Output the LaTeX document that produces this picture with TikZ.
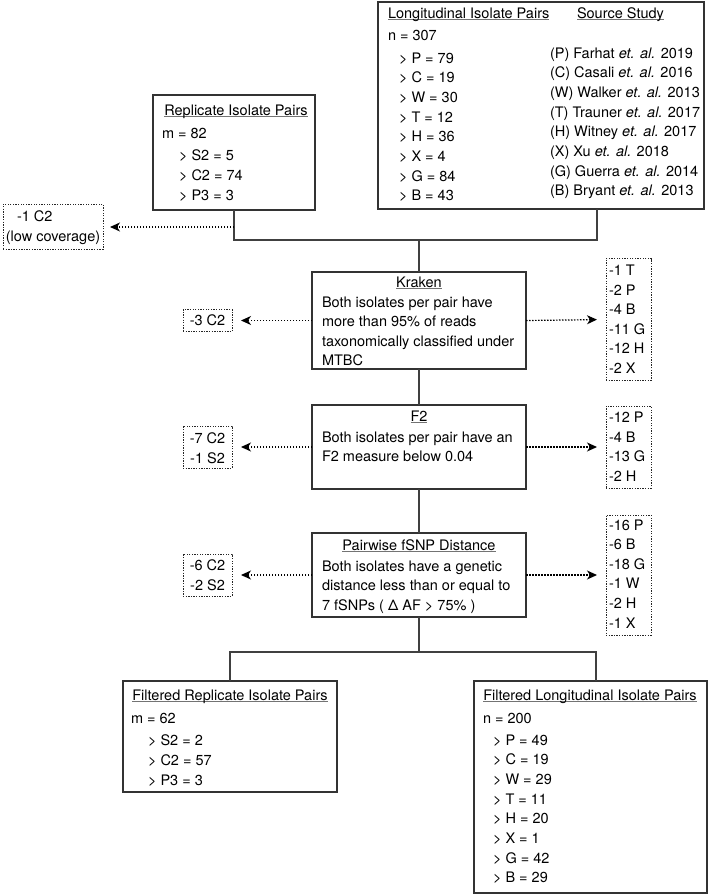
\documentclass[tikz,border=0pt]{standalone}
\usepackage{fontspec}
\setmainfont{TeX Gyre Heros}
\usetikzlibrary{arrows.meta,calc}
\newcommand{\myul}[1]{\setbox0\hbox{#1}\rlap{\textcolor{black!55}{\rule[-2.3pt]{\wd0}{0.9pt}}}\box0}
\begin{document}
\begin{tikzpicture}[x=1pt,y=-1pt,
  every node/.style={font=\fontsize{14.5}{17}\selectfont, inner sep=0pt, outer sep=0pt},
  t/.style={anchor=base west},
  tc/.style={anchor=base},
  bx/.style 2 args={draw=black!80, line width=1.1pt, minimum width=#1, minimum height=#2},
  dbx/.style 2 args={draw=black!85, line width=0.9pt, dash pattern=on 1.3pt off 1.3pt, minimum width=#1, minimum height=#2},
  ln/.style={draw=black!75, line width=1.1pt},
  darr/.style={draw=black, line width=1.2pt, dash pattern=on 1.5pt off 1.5pt, -{Stealth[length=10pt,width=9pt,inset=3pt]}}]
\useasboundingbox (0,0) rectangle (717,895);

% Longitudinal
\node[bx={326}{207}] (lon) at (541,105.5) {};
\node[t] (lonT) at (388,18) {\myul{Longitudinal Isolate Pairs}};
\node[t] (srcT) at (577,18) {\myul{Source Study}};
\node[t] (lonN) at (388,40) {n = 307};
\foreach \s [count=\i] in {P = 79, C = 19, W = 30, T = 12, H = 36, X = 4, G = 84, B = 43}
  \node[t] (lonL\i) at (399,{63+19.7*(\i-1)}) {> \s};
\foreach \s [count=\i] in {{(P) Farhat \textit{et. al.} 2019},{(C) Casali \textit{et. al.} 2016},{(W) Walker \textit{et. al.} 2013},{(T) Trauner \textit{et. al.} 2017},{(H) Witney \textit{et. al.} 2017},{(X) Xu \textit{et. al.} 2018},{(G) Guerra \textit{et. al.} 2014},{(B) Bryant \textit{et. al.} 2013}}
  \node[t] (src\i) at (550,{58+19.7*(\i-1)}) {\s};

% Replicate
\node[bx={162}{115}] (rep) at (234,152.5) {};
\node[tc] (repT) at (236,115) {\myul{Replicate Isolate Pairs}};
\node[t] (repM) at (162,138) {m = 82};
\foreach \s [count=\i] in {S2 = 5, C2 = 74, P3 = 3}
  \node[t] (repL\i) at (179,{160+20*(\i-1)}) {> \s};

% low coverage
\node[dbx={100}{45}] (low) at (53,226.5) {};
\node[t] (lowA) at (17,221) {-1 C2};
\node[tc] (lowB) at (53,241) {(low coverage)};

% Kraken
\node[bx={214}{97}] (kr) at (419,320.5) {};
\node[tc] (krT) at (419,287) {\myul{Kraken}};
\foreach \s [count=\i] in {Both isolates per pair have, more than 95\% of reads, taxonomically classified under, MTBC}
  \node[t] (krL\i) at (322,{307+19.5*(\i-1)}) {\s};
\node[dbx={49}{22}] (kl) at (207.5,320.5) {};
\node[tc] (klt) at (207.5,325.5) {-3 C2};
\node[dbx={45}{122}] (krr) at (628.5,319.5) {};
\foreach \s [count=\i] in {-1 T, -2 P, -4 B, -11 G, -12 H, -2 X}
  \node[t] (krrL\i) at (609,{319.5+19.6*(\i-3.5)+5}) {\s};

% F2
\node[bx={214}{84}] (f2) at (419,447) {};
\node[tc] (f2T) at (419,421) {\myul{F2}};
\node[t] (f2L1) at (322,442) {Both isolates per pair have an};
\node[t] (f2L2) at (322,461.5) {F2 measure below 0.04};
\node[dbx={49}{42}] (fl) at (207.5,447) {};
\node[tc] (flL1) at (207.5,443) {-7 C2};
\node[tc] (flL2) at (207.5,463) {-1 S2};
\node[dbx={45}{82}] (fr) at (628.5,447) {};
\foreach \s [count=\i] in {-12 P, -4 B, -13 G, -2 H}
  \node[t] (frL\i) at (609,{447+19.6*(\i-2.5)+5}) {\s};

% fSNP
\node[bx={214}{84}] (fs) at (419,575) {};
\node[tc] (fsT) at (419,550) {\myul{Pairwise fSNP Distance}};
\foreach \s [count=\i] in {Both isolates have a genetic, distance less than or equal to, 7 fSNPs ( Δ AF > 75\% )}
  \node[t] (fsL\i) at (322,{571+19.5*(\i-1)}) {\s};
\node[dbx={49}{42}] (sl) at (207.5,575) {};
\node[tc] (slL1) at (207.5,570) {-6 C2};
\node[tc] (slL2) at (207.5,590) {-2 S2};
\node[dbx={45}{120}] (sr) at (628.5,575) {};
\foreach \s [count=\i] in {-16 P, -6 B, -18 G, -1 W, -2 H, -1 X}
  \node[t] (srL\i) at (609,{574+19.6*(\i-3.5)+5}) {\s};

% bottom boxes
\node[bx={214}{111}] (frp) at (230,736.5) {};
\node[tc] (frpT) at (230,700) {\myul{Filtered Replicate Isolate Pairs}};
\node[t] (frpM) at (131,723) {m = 62};
\foreach \s [count=\i] in {S2 = 2, C2 = 57, P3 = 3}
  \node[t] (frpL\i) at (148,{745+20*(\i-1)}) {> \s};
\node[bx={233}{212}] (flo) at (590.5,787) {};
\node[tc] (floT) at (590,700) {\myul{Filtered Longitudinal Isolate Pairs}};
\node[t] (floN) at (483,723) {n = 200};
\foreach \s [count=\i] in {P = 49, C = 19, W = 29, T = 11, H = 20, X = 1, G = 42, B = 29}
  \node[t] (floL\i) at (493,{745+19.7*(\i-1)}) {> \s};

% connectors
\coordinate (j) at (419,240);
\coordinate (lonb) at (597,209);
\coordinate (ja) at (234,227);
\coordinate (j2) at (419,652);
\coordinate (flt) at (596,681);
\draw[ln] (rep.south) |- (j) -| (lonb);
\draw[ln] (j) -- (kr.north);
\draw[ln] (kr.south) -- (f2.north);
\draw[ln] (f2.south) -- (fs.north);
\draw[ln] (fs.south) -- (j2);
\draw[ln] (frp.north) |- (flt |- j2) -- (flt);
\draw[darr, shorten >=7pt] (ja) -- (ja -| low.east);
\draw[darr, shorten >=9pt] (kr.west) -- (kl.east);
\draw[darr, shorten >=9pt] (kr.east) -- (krr.west);
\draw[darr, shorten >=9pt] (f2.west) -- (fl.east);
\draw[darr, shorten >=9pt] (f2.east) -- (fr.west);
\draw[darr, shorten >=9pt] (fs.west) -- (sl.east);
\draw[darr, shorten >=9pt] (fs.east) -- (sr.west);
\end{tikzpicture}
\end{document}
